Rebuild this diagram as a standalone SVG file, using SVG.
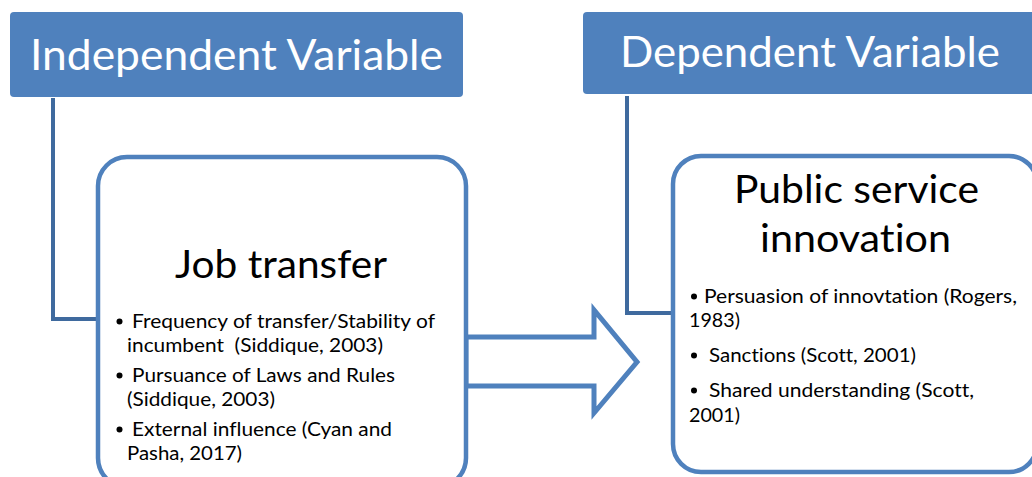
<svg xmlns="http://www.w3.org/2000/svg" width="1032" height="477" viewBox="0 0 1032 477">
  <style>
    text { font-variant-ligatures: none; font-feature-settings: "liga" 0, "clig" 0, "dlig" 0; white-space: pre; }
    .hdr { fill: #4F81BD; }
    .hdrtxt { font-family: Lato, "Open Sans", "Liberation Sans", sans-serif; font-size: 43px; fill: #FFFFFF; }
    .card { fill: #FFFFFF; stroke: #4F81BD; stroke-width: 4.5; }
    .title { font-family: Lato, "Open Sans", "Liberation Sans", sans-serif; font-size: 38px; fill: #000000; }
    .item { font-family: Lato, "Open Sans", "Liberation Sans", sans-serif; font-size: 19.5px; fill: #000000; }
    .dot { fill: #000000; }
    .conn { fill: none; stroke: #3F6A9E; stroke-width: 4; }
    .arrow { fill: #FFFFFF; stroke: #4F81BD; stroke-width: 5; stroke-linejoin: miter; }
  </style>
  <rect width="1032" height="477" fill="#FFFFFF"/>

  <g id="connectors">
    <path class="conn" d="M53,98 V319 H98"/>
    <path class="conn" d="M627,96 V313 H673"/>
    <path id="arrow" class="arrow" d="M466,337 L594,337 L594,310 L637,362 L594,413 L594,386 L466,386 Z"/>
  </g>

  <g id="independent-variable">
    <rect class="hdr" x="10" y="12" width="453" height="85" rx="4"/>
    <text class="hdrtxt" x="236.5" y="70" text-anchor="middle" textLength="413" lengthAdjust="spacingAndGlyphs">Independent Variable</text>
  </g>

  <g id="dependent-variable">
    <rect class="hdr" x="583" y="12" width="470" height="82" rx="4"/>
    <text class="hdrtxt" x="810" y="67" text-anchor="middle" textLength="380" lengthAdjust="spacingAndGlyphs">Dependent Variable</text>
  </g>

  <g id="job-transfer">
    <rect class="card" x="98" y="157" width="368" height="330" rx="29"/>
    <text class="title" x="281" y="278" text-anchor="middle" textLength="212" lengthAdjust="spacingAndGlyphs">Job transfer</text>
    <circle class="dot" cx="119.5" cy="321.5" r="3"/>
    <text class="item" x="132" y="328" textLength="303" lengthAdjust="spacingAndGlyphs">Frequency of transfer/Stability of</text>
    <text class="item" x="127" y="352" textLength="256" lengthAdjust="spacingAndGlyphs">incumbent  (Siddique, 2003)</text>
    <circle class="dot" cx="119.5" cy="375.5" r="3"/>
    <text class="item" x="132" y="382" textLength="263" lengthAdjust="spacingAndGlyphs">Pursuance of Laws and Rules</text>
    <text class="item" x="127" y="406" textLength="148" lengthAdjust="spacingAndGlyphs">(Siddique, 2003)</text>
    <circle class="dot" cx="119.5" cy="429.5" r="3"/>
    <text class="item" x="132" y="436" textLength="260" lengthAdjust="spacingAndGlyphs">External influence (Cyan and</text>
    <text class="item" x="127" y="460" textLength="115" lengthAdjust="spacingAndGlyphs">Pasha, 2017)</text>
  </g>

  <g id="public-service-innovation">
    <rect class="card" x="673" y="156" width="364" height="316" rx="28"/>
    <text class="title" x="856.5" y="203" text-anchor="middle" textLength="245" lengthAdjust="spacingAndGlyphs">Public service</text>
    <text class="title" x="855.5" y="252" text-anchor="middle" textLength="191" lengthAdjust="spacingAndGlyphs">innovation</text>
    <circle class="dot" cx="694" cy="296.5" r="3"/>
    <text class="item" x="704" y="303" textLength="313" lengthAdjust="spacingAndGlyphs">Persuasion of innovtation (Rogers,</text>
    <text class="item" x="689" y="327" textLength="51" lengthAdjust="spacingAndGlyphs">1983)</text>
    <circle class="dot" cx="694" cy="355.5" r="3"/>
    <text class="item" x="709" y="362" textLength="207" lengthAdjust="spacingAndGlyphs">Sanctions (Scott, 2001)</text>
    <circle class="dot" cx="694" cy="390.5" r="3"/>
    <text class="item" x="709" y="397" textLength="265" lengthAdjust="spacingAndGlyphs">Shared understanding (Scott,</text>
    <text class="item" x="689" y="422" textLength="51" lengthAdjust="spacingAndGlyphs">2001)</text>
  </g>
</svg>
